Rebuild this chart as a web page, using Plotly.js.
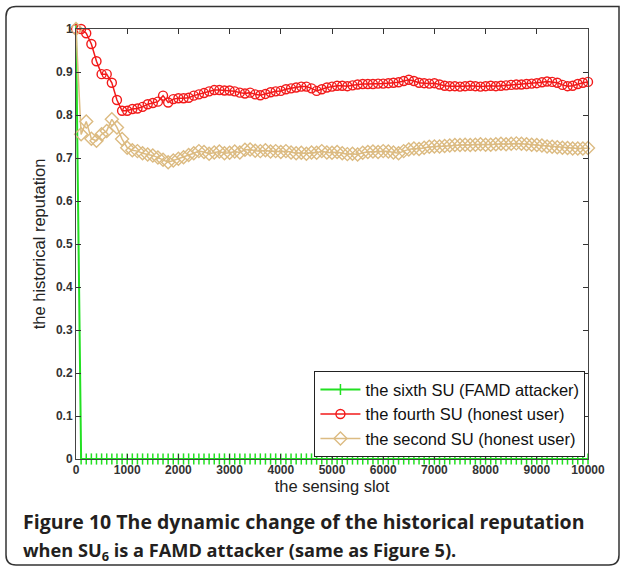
<!DOCTYPE html>
<html>
<head>
<meta charset="utf-8">
<script src="https://cdn.plot.ly/plotly-3.0.1.min.js"></script>
<style>
html,body{margin:0;padding:0;background:#fff;}
#chart{width:624px;height:570px;}
</style>
</head>
<body>
<div id="chart"></div>
<script>
// sensing slots (every 100)
const slots = [0,100,200,300,400,500,600,700,800,900,1000,
1100,1200,1300,1400,1500,1600,1700,1800,1900,2000,
2100,2200,2300,2400,2500,2600,2700,2800,2900,3000,
3100,3200,3300,3400,3500,3600,3700,3800,3900,4000,
4100,4200,4300,4400,4500,4600,4700,4800,4900,5000,
5100,5200,5300,5400,5500,5600,5700,5800,5900,6000,
6100,6200,6300,6400,6500,6600,6700,6800,6900,7000,
7100,7200,7300,7400,7500,7600,7700,7800,7900,8000,
8100,8200,8300,8400,8500,8600,8700,8800,8900,9000,
9100,9200,9300,9400,9500,9600,9700,9800,9900,10000];

// the sixth SU (FAMD attacker)
const sixthSU = [1.0,0,0,0,0,0,0,0,0,0,0,
0,0,0,0,0,0,0,0,0,0,
0,0,0,0,0,0,0,0,0,0,
0,0,0,0,0,0,0,0,0,0,
0,0,0,0,0,0,0,0,0,0,
0,0,0,0,0,0,0,0,0,0,
0,0,0,0,0,0,0,0,0,0,
0,0,0,0,0,0,0,0,0,0,
0,0,0,0,0,0,0,0,0,0,
0,0,0,0,0,0,0,0,0,0];

// the fourth SU (honest user)
const fourthSU = [1.0,1.0,0.99,0.965,0.925,0.895,0.895,0.875,0.835,0.81,0.81,
0.814,0.815,0.819,0.825,0.828,0.831,0.845,0.829,0.837,0.839,
0.839,0.84,0.845,0.848,0.851,0.855,0.858,0.858,0.857,0.857,
0.855,0.852,0.85,0.852,0.848,0.846,0.849,0.853,0.855,0.856,
0.86,0.862,0.864,0.866,0.866,0.862,0.856,0.86,0.864,0.866,
0.868,0.868,0.867,0.869,0.871,0.872,0.872,0.872,0.873,0.873,
0.874,0.875,0.876,0.879,0.882,0.879,0.875,0.874,0.873,0.874,
0.871,0.868,0.867,0.867,0.866,0.867,0.868,0.867,0.866,0.867,
0.868,0.867,0.868,0.869,0.87,0.871,0.871,0.872,0.873,0.874,
0.876,0.878,0.877,0.875,0.87,0.867,0.868,0.872,0.875,0.877];

// the second SU (honest user)
const secondSU = [1.0,0.755,0.785,0.745,0.74,0.755,0.763,0.79,0.771,0.744,0.724,
0.718,0.716,0.711,0.708,0.706,0.701,0.696,0.69,0.694,0.698,
0.702,0.707,0.711,0.716,0.714,0.71,0.713,0.715,0.711,0.712,
0.715,0.713,0.719,0.72,0.717,0.716,0.718,0.715,0.716,0.714,
0.716,0.713,0.711,0.712,0.71,0.713,0.712,0.716,0.713,0.712,
0.714,0.711,0.709,0.71,0.708,0.712,0.714,0.715,0.714,0.716,
0.715,0.713,0.711,0.716,0.72,0.722,0.721,0.724,0.726,0.727,
0.727,0.728,0.729,0.73,0.73,0.731,0.73,0.731,0.732,0.731,
0.731,0.732,0.733,0.732,0.733,0.734,0.733,0.732,0.731,0.73,
0.729,0.727,0.726,0.725,0.724,0.723,0.722,0.722,0.722,0.723];

const xTicks = [0,1000,2000,3000,4000,5000,6000,7000,8000,9000,10000];
const yTicks = [0,0.1,0.2,0.3,0.4,0.5,0.6,0.7,0.8,0.9,1];
const yTickText = ['0','0.1','0.2','0.3','0.4','0.5','0.6','0.7','0.8','0.9','1'];

const traces = [
  {x: slots, y: sixthSU, name: 'the sixth SU (FAMD attacker)', type: 'scatter', mode: 'lines+markers',
   line: {color: '#22e022', width: 2}, cliponaxis: false,
   marker: {symbol: 'line-ns-open', size: 8, color: '#22e022', line: {color: '#22e022', width: 1.5}}},
  {x: slots, y: fourthSU, name: 'the fourth SU (honest user)', type: 'scatter', mode: 'lines+markers',
   line: {color: '#f21a1a', width: 1.5}, cliponaxis: false,
   marker: {symbol: 'circle-open', size: 9, color: '#f21a1a', line: {color: '#f21a1a', width: 1.4}}},
  {x: slots, y: secondSU, name: 'the second SU (honest user)', type: 'scatter', mode: 'lines+markers',
   line: {color: '#dcbb82', width: 1.5}, cliponaxis: false,
   marker: {symbol: 'diamond-open', size: 10, color: '#dcbb82', line: {color: '#dcbb82', width: 1.4}}}
];

// plot area in pixels: x 76..588, y 28.5..459
const L = 76, R = 588, T = 28.5, B = 459;
const px = v => (v - L) / (R - L);
const py = v => (B - v) / (B - T);

const layout = {
  width: 624, height: 570,
  margin: {l: L, r: 624 - R, t: T, b: 570 - B, pad: 0},
  paper_bgcolor: '#fff', plot_bgcolor: '#fff',
  showlegend: true,
  font: {family: 'Liberation Sans, Arial, sans-serif', color: '#222'},
  xaxis: {
    range: [0, 10000], tickvals: xTicks, ticktext: xTicks.map(String),
    ticks: 'inside', ticklen: 5, tickcolor: '#333', tickwidth: 1,
    showline: true, linecolor: '#444', linewidth: 1, mirror: 'ticks',
    showgrid: false, zeroline: false,
    tickfont: {size: 12, weight: 'bold', color: '#333'},
    title: {text: 'the sensing slot', font: {size: 16.5, color: '#222'}, standoff: 3}
  },
  yaxis: {
    range: [0, 1], tickvals: yTicks, ticktext: yTickText,
    ticks: 'inside', ticklen: 5, tickcolor: '#333', tickwidth: 1,
    showline: true, linecolor: '#444', linewidth: 1, mirror: 'ticks',
    showgrid: false, zeroline: false,
    tickfont: {size: 12, weight: 'bold', color: '#333'},
    title: {text: 'the historical reputation', font: {size: 16.5, color: '#222'}, standoff: 6}
  },
  legend: {
    x: 0.995, xanchor: 'right', y: 0.004, yanchor: 'bottom',
    bgcolor: '#fff', bordercolor: '#222', borderwidth: 1, itemwidth: 40,
    font: {size: 16.5, color: '#111'}, tracegroupgap: 0
  },
  shapes: [{
    type: 'path', xref: 'paper', yref: 'paper',
    path: (function(){
      const l=6, r=619, t=6, b=565, rad=10;
      return 'M ' + px(l+rad) + ' ' + py(t) +
        ' L ' + px(r) + ' ' + py(t) +
        ' L ' + px(r) + ' ' + py(b-rad) +
        ' Q ' + px(r) + ' ' + py(b) + ' ' + px(r-rad) + ' ' + py(b) +
        ' L ' + px(l+rad) + ' ' + py(b) +
        ' Q ' + px(l) + ' ' + py(b) + ' ' + px(l) + ' ' + py(b-rad) +
        ' L ' + px(l) + ' ' + py(t+rad) +
        ' Q ' + px(l) + ' ' + py(t) + ' ' + px(l+rad) + ' ' + py(t) + ' Z';
    })(),
    line: {color: '#333', width: 1.5}, fillcolor: 'rgba(0,0,0,0)', layer: 'below'
  }],
  annotations: [
    {xref: 'paper', yref: 'paper', x: px(21), y: py(522), xanchor: 'left', yanchor: 'middle',
     showarrow: false, align: 'left',
     text: '<b>Figure 10 The dynamic change of the historical reputation</b>',
     font: {family: 'Open Sans, sans-serif', size: 19.5, color: '#231f20'}},
    {xref: 'paper', yref: 'paper', x: px(21), y: py(552), xanchor: 'left', yanchor: 'middle',
     showarrow: false, align: 'left',
     text: '<b>when SU<sub>6</sub> is a FAMD attacker (same as Figure 5).</b>',
     font: {family: 'Open Sans, sans-serif', size: 18.2, color: '#231f20'}}
  ]
};

Plotly.newPlot('chart', traces, layout, {displayModeBar: false, staticPlot: true});
</script>
</body>
</html>
